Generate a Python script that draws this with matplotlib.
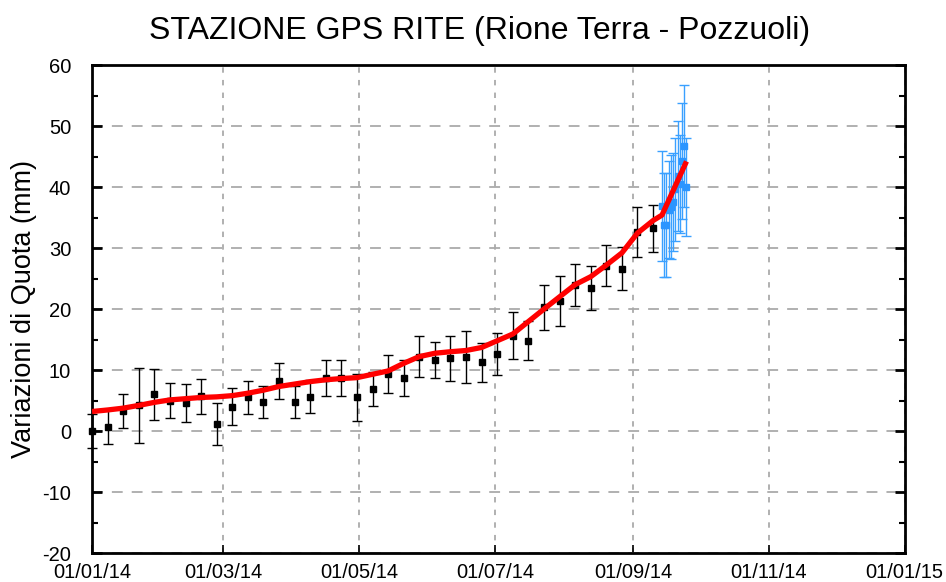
import numpy as np
import matplotlib
matplotlib.use("Agg")
import matplotlib.pyplot as plt
import matplotlib.dates as mdates
from matplotlib.ticker import MultipleLocator
import datetime as dt

plt.rcParams["font.family"] = ["Liberation Sans", "DejaVu Sans"]
plt.rcParams["axes.unicode_minus"] = False

start = dt.datetime(2014, 1, 1)

# weekly GPS solutions (days since 01/01/14)
weekly_days = list(range(0, 253, 7))
weekly_val = [0.0, 0.6, 3.3, 4.2, 6.0, 5.0, 4.6, 5.7, 1.15, 4.0, 5.5, 4.8, 8.2,
              4.8, 5.6, 8.7, 8.7, 5.5, 6.95, 9.4, 8.65, 12.2, 11.65, 11.9, 12.15,
              11.3, 12.6, 15.65, 14.8, 20.3, 21.35, 23.9, 23.5, 27.1, 26.6, 32.6, 33.2]
weekly_err = [2.8, 2.8, 2.75, 6.2, 4.2, 2.9, 3.06, 2.85, 3.45, 3.0, 2.65, 2.6, 3.0,
              2.6, 2.7, 2.95, 2.95, 3.9, 2.8, 3.1, 2.95, 3.3, 3.0, 3.7, 4.2,
              3.2, 3.4, 3.8, 3.2, 3.7, 4.1, 3.4, 3.6, 3.4, 3.5, 4.05, 3.9]

# daily rapid solutions
daily_days = list(range(256, 268))
daily_val = [36.9, 33.8, 33.8, 36.3, 36.7, 37.5, 39.6, 41.8, 40.5, 44.2, 46.7, 40.0]
daily_err = [9.0, 8.5, 8.5, 8.0, 8.5, 8.0, 8.5, 9.0, 8.0, 9.5, 10.0, 8.0]

# smoothed trend
trend_days = list(range(0, 253, 7)) + [256, 267]
trend_val = [3.2, 3.45, 3.75, 4.2, 4.7, 5.1, 5.3, 5.5, 5.6, 5.8, 6.2, 6.7, 7.3,
             7.7, 8.1, 8.4, 8.6, 8.75, 9.3, 9.85, 11.1, 12.2, 12.75, 13.0, 13.2,
             13.7, 14.8, 15.9, 17.95, 20.0, 22.0, 24.0, 25.3, 27.2, 29.2, 32.45, 34.5,
             35.4, 44.2]

def to_dates(days):
    return [start + dt.timedelta(days=d) for d in days]

fig = plt.figure(figsize=(9.46, 5.82), dpi=100)
ax = fig.add_axes([0.0973, 0.0498, 0.859, 0.8385])

ax.errorbar(to_dates(weekly_days), weekly_val, yerr=weekly_err, fmt="s", color="black",
            ms=4.5, ecolor="black", elinewidth=1.0, capsize=3.5, capthick=1.0,
            zorder=3, clip_on=False)
ax.errorbar(to_dates(daily_days), daily_val, yerr=daily_err, fmt="s", color="#2b95ff",
            ms=4.5, ecolor="#3aa0ff", elinewidth=1.0, capsize=3.5, capthick=1.0,
            zorder=3)
ax.plot(to_dates(trend_days), trend_val, color="red", lw=3.8, zorder=4,
        solid_capstyle="butt")

ax.set_xlim(start, dt.datetime(2015, 1, 1))
ax.set_ylim(-20, 60)
ax.xaxis.set_major_locator(mdates.MonthLocator(bymonth=[1, 3, 5, 7, 9, 11]))
ax.xaxis.set_major_formatter(mdates.DateFormatter("%d/%m/%y"))
ax.yaxis.set_major_locator(MultipleLocator(10))
ax.yaxis.set_minor_locator(MultipleLocator(5))

ax.grid(axis="y", color="#aaaaaa", linestyle=(0, (6, 5)), lw=1.3)
ax.grid(axis="x", color="#aaaaaa", linestyle=(0, (3, 4)), lw=1.3)

ax.tick_params(axis="both", which="both", direction="in", labelsize=14.5)
ax.tick_params(axis="y", which="major", length=7, width=2, right=True, pad=15)
ax.tick_params(axis="y", which="minor", length=4, width=1.5, right=True)
ax.tick_params(axis="x", which="major", length=6, width=1.2, pad=7)
for s in ax.spines.values():
    s.set_linewidth(2)

ax.set_ylabel("Variazioni di Quota (mm)", fontsize=19.5, labelpad=4)
fig.text(0.507, 0.946, "STAZIONE GPS RITE (Rione Terra - Pozzuoli)", fontsize=23,
         ha="center", va="center")

fig.savefig("out.png", dpi=100)
